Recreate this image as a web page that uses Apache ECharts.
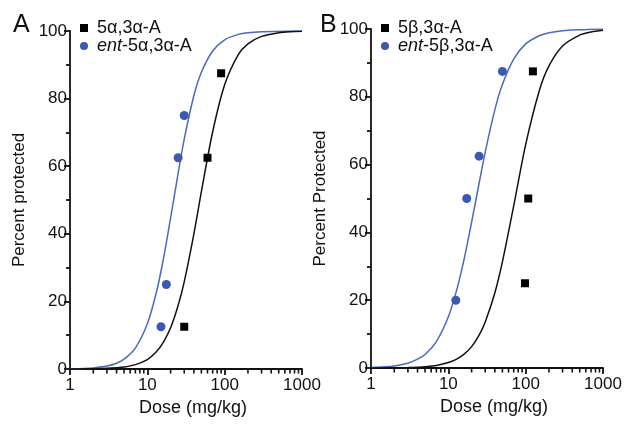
<!DOCTYPE html>
<html>
<head>
<meta charset="utf-8">
<script src="https://cdn.jsdelivr.net/npm/echarts@6/dist/echarts.min.js"></script>
<style>
html,body{margin:0;padding:0;background:#fff;}
#chart{width:629px;height:433px;}
</style>
</head>
<body>
<div id="chart"></div>
<script>
// ---- data ----
const curveDoses = [1,1.5,2,3,4,5,7,10,13,16,20,25,30,40,50,70,100,150,200,300,500,700,1000];
const curveA_black = [0.02,0.04,0.08,0.19,0.37,0.6,1.3,2.8,5.0,7.8,12.2,18.8,25.8,40.0,52.5,70.2,84.1,93.0,96.2,98.4,99.5,99.8,99.9];
const curveA_blue  = [0.06,0.17,0.33,0.86,1.7,2.9,6.2,13.4,22.4,32.1,44.7,57.9,68.0,80.9,87.8,94.1,97.4,99.0,99.5,99.8,99.9,100,100];
const curveB_black = [0.01,0.03,0.06,0.13,0.24,0.37,0.75,1.6,2.7,4.1,6.3,9.7,13.6,22.2,31.3,47.8,65.9,81.8,89.1,95.0,98.2,99.1,99.6];
const curveB_blue  = [0.15,0.34,0.62,1.4,2.6,4.0,7.8,15.1,23.5,32.1,43.0,54.5,63.7,76.2,83.6,91.1,95.6,98.0,98.9,99.5,99.8,99.9,100];

const A_black_dose = [90, 60, 30];
const A_black_pct  = [87.5, 62.5, 12.5];
const A_blue_dose  = [30, 25, 17.6, 15];
const A_blue_pct   = [75, 62.5, 25, 12.5];
const B_black_dose = [124, 108, 98];
const B_black_pct  = [87.5, 50, 25];
const B_blue_dose  = [50, 25, 17.3, 12.5];
const B_blue_pct   = [87.5, 62.5, 50, 20];

const xTickLabels = [1, 10, 100, 1000];
const minorTickValues = [2,3,4,5,6,7,8,9,20,30,40,50,60,70,80,90,200,300,400,500,600,700,800,900];

const names = {
  aBlack: '5α,3α-A', aBlue: 'ent-5α,3α-A',
  bBlack: '5β,3α-A', bBlue: 'ent-5β,3α-A'
};

// ---- styling ----
const FONT = "'Liberation Sans', Arial, sans-serif";
const INK = '#111111';
const BLUE_PT = '#3b58b5';
const BLUE_LN = '#4c68c2';

function pairs(xs, ys){ return xs.map((x,i)=>[x, ys[i]]); }

function xAxisFor(gridIndex){
  return {
    type: 'log', logBase: 10, min: 1, max: 1000, gridIndex,
    name: 'Dose (mg/kg)', nameLocation: 'middle', nameGap: 30,
    nameTextStyle: {fontFamily: FONT, fontSize: 18, color: INK, padding: [0,0,0,14]},
    axisLine: {show: true, lineStyle: {color: INK, width: 1.8}},
    axisTick: {show: true, inside: false, length: 6, lineStyle: {color: INK, width: 1.8}},
    axisLabel: {
      fontFamily: FONT, fontSize: 17, color: INK, margin: 8,
      formatter: v => (xTickLabels.indexOf(Math.round(v)) >= 0 ? String(Math.round(v)) : '')
    },
    splitLine: {show: false}, minorTick: {show: false}
  };
}
function yAxisFor(gridIndex, title){
  return {
    type: 'value', min: 0, max: 100, interval: 20, gridIndex,
    name: title, nameLocation: 'middle', nameGap: 42, nameRotate: 90,
    nameTextStyle: {fontFamily: FONT, fontSize: 17, color: INK},
    axisLine: {show: true, lineStyle: {color: INK, width: 1.8}},
    axisTick: {show: true, length: 6, lineStyle: {color: INK, width: 1.8}},
    minorTick: {show: true, splitNumber: 2, length: 4, lineStyle: {color: INK, width: 1.8}},
    axisLabel: {fontFamily: FONT, fontSize: 17, color: INK, margin: 3},
    splitLine: {show: false}
  };
}
function legendFor(left, top, data){
  return {
    orient: 'vertical', left, top, padding: 0, itemGap: 0,
    itemWidth: 8, itemHeight: 8, selectedMode: false,
    data,
    formatter: n => n.indexOf('ent-') === 0 ? '{i|ent}{n|' + n.slice(3) + '}' : '{n|' + n + '}',
    textStyle: {
      fontFamily: FONT, fontSize: 18, color: INK, lineHeight: 18, padding: [0,0,0,4],
      rich: {
        i: {fontFamily: FONT, fontSize: 18, fontStyle: 'italic', color: INK, lineHeight: 18},
        n: {fontFamily: FONT, fontSize: 18, color: INK, lineHeight: 18}
      }
    }
  };
}
function curve(name, idx, ys, color){
  return {
    name, type: 'line', xAxisIndex: idx, yAxisIndex: idx, smooth: 0.3,
    data: pairs(curveDoses, ys), showSymbol: false, symbol: 'none', silent: true,
    lineStyle: {color, width: 1.5}, itemStyle: {color}, z: 3
  };
}
function points(name, idx, xs, ys, symbol, size, color){
  return {
    name, type: 'scatter', xAxisIndex: idx, yAxisIndex: idx,
    data: pairs(xs, ys), symbol, symbolSize: size, clip: false,
    itemStyle: {color, opacity: 1}, z: 4
  };
}

const panelLetters = [
  {type: 'text', left: 13, top: 13, style: {text: 'A', font: '25px ' + FONT, fill: INK}},
  {type: 'text', left: 320, top: 13, style: {text: 'B', font: '25px ' + FONT, fill: INK}}
];

const chart = echarts.init(document.getElementById('chart'), null, {renderer: 'canvas'});
chart.setOption({
  animation: false,
  backgroundColor: '#fff',
  grid: [
    {left: 70, top: 31, width: 232, height: 338},
    {left: 371, top: 29, width: 232, height: 339}
  ],
  xAxis: [xAxisFor(0), xAxisFor(1)],
  yAxis: [yAxisFor(0, 'Percent protected'), yAxisFor(1, 'Percent Protected')],
  legend: [
    legendFor(80, 19, [{name: names.aBlack, icon: 'rect'}, {name: names.aBlue, icon: 'circle'}]),
    legendFor(381, 19, [{name: names.bBlack, icon: 'rect'}, {name: names.bBlue, icon: 'circle'}])
  ],
  graphic: panelLetters,
  series: [
    curve('curveA_blue', 0, curveA_blue, BLUE_LN),
    curve('curveA_black', 0, curveA_black, INK),
    points(names.aBlack, 0, A_black_dose, A_black_pct, 'rect', 8, '#000'),
    points(names.aBlue, 0, A_blue_dose, A_blue_pct, 'circle', 9, BLUE_PT),
    curve('curveB_blue', 1, curveB_blue, BLUE_LN),
    curve('curveB_black', 1, curveB_black, INK),
    points(names.bBlack, 1, B_black_dose, B_black_pct, 'rect', 8, '#000'),
    points(names.bBlue, 1, B_blue_dose, B_blue_pct, 'circle', 9, BLUE_PT)
  ]
});

// log-spaced minor ticks on the dose axes, positioned through the axis scale
const tickGraphics = [];
[0, 1].forEach(idx => {
  minorTickValues.forEach(v => {
    const p = chart.convertToPixel({xAxisIndex: idx, yAxisIndex: idx}, [v, 0]);
    if (p) {
      tickGraphics.push({
        type: 'line', silent: true, z: 10,
        shape: {x1: p[0], y1: p[1], x2: p[0], y2: p[1] + 4.5},
        style: {stroke: INK, lineWidth: 1.6}
      });
    }
  });
});
chart.setOption({graphic: panelLetters.concat(tickGraphics)});
</script>
</body>
</html>
